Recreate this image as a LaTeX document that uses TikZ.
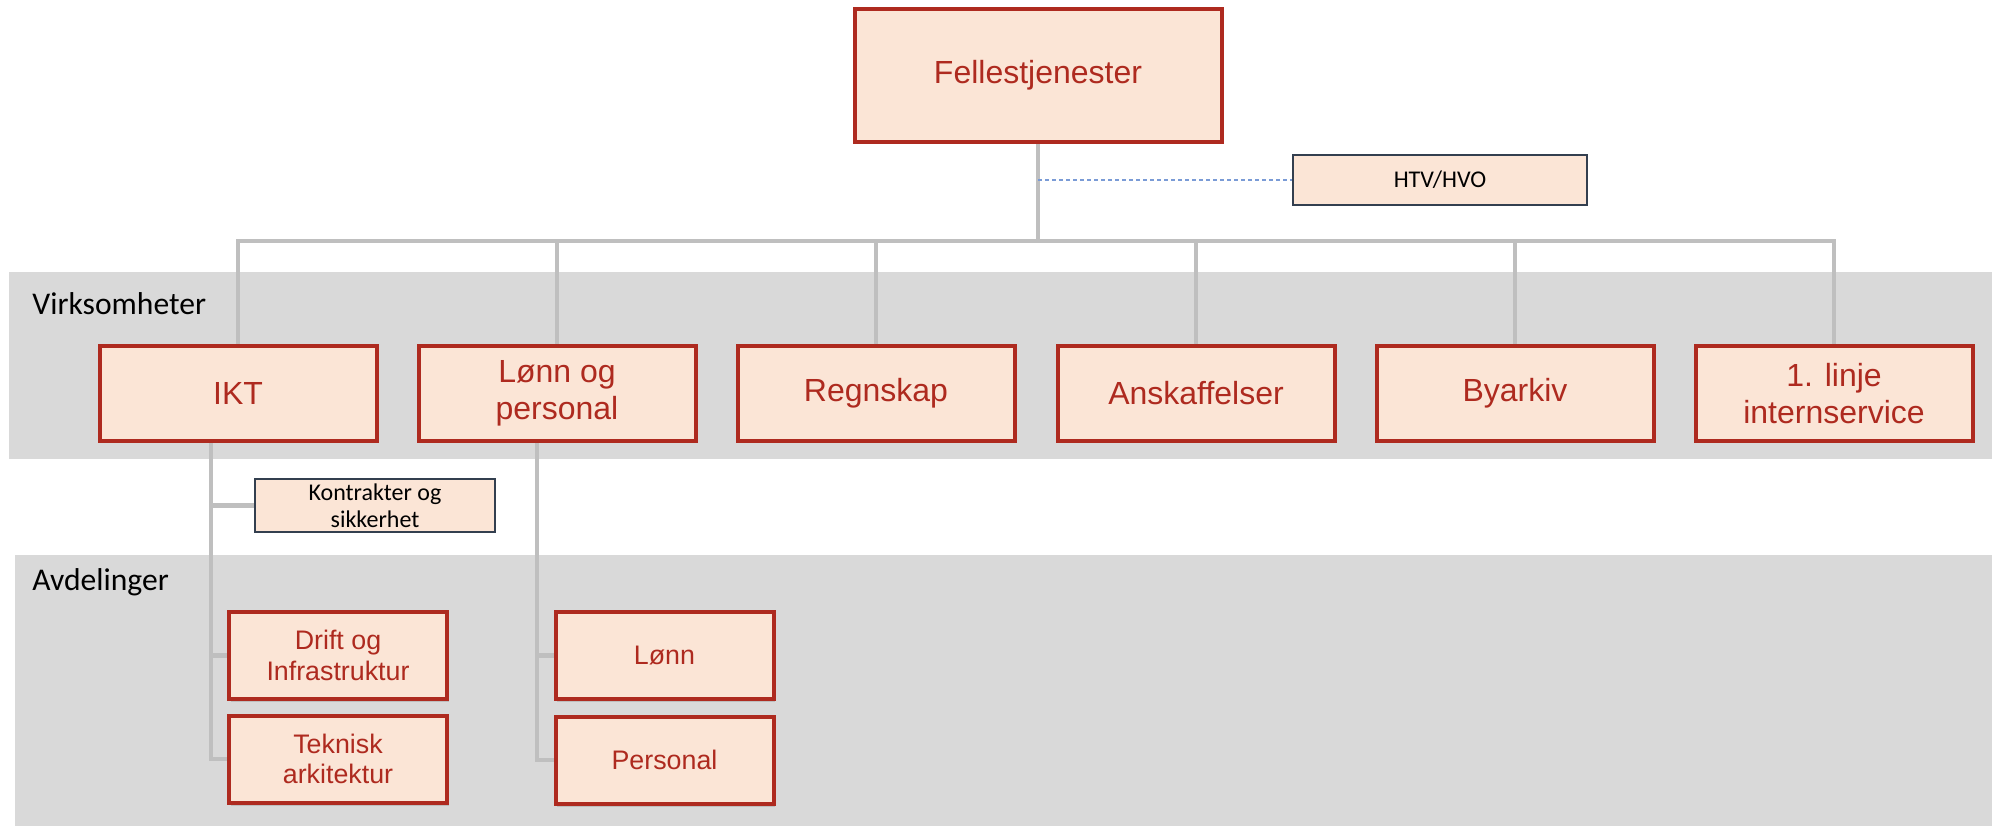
\documentclass[tikz,border=0pt]{standalone}
\usepackage{fontspec}
\setmainfont{Liberation Sans}
\newfontfamily\carlito{Carlito}
\usetikzlibrary{shadows}
\definecolor{boxred}{HTML}{AE2A1F}
\definecolor{peach}{HTML}{FBE5D6}
\definecolor{bandgray}{HTML}{D9D9D9}
\definecolor{linegray}{HTML}{BFBFBF}
\definecolor{slate}{HTML}{333F4F}
\definecolor{dashblue}{HTML}{7A9BD6}

\begin{document}
\begin{tikzpicture}[x=0.5pt, y=-0.5pt,
  unit/.style={draw=boxred, line width=2pt, fill=peach, text=boxred, align=center,
    inner sep=0pt, minimum width=138.5pt, minimum height=47.5pt,
    font=\fontsize{16}{18.4}\selectfont},
  dept/.style={unit, minimum width=109pt, minimum height=43.5pt,
    font=\fontsize{13.4}{15.2}\selectfont,
    drop shadow={shadow xshift=0.8pt, shadow yshift=-1.5pt, opacity=0.3}},
  side/.style={draw=slate, line width=1.2pt, fill=peach, inner sep=0pt, align=center,
    font=\carlito\fontsize{12}{13.5}\selectfont},
  conn/.style={draw=linegray, line width=2.2pt},
  bandlabel/.style={anchor=west, inner sep=0pt, font=\carlito\fontsize{15.8}{18}\selectfont}]
\useasboundingbox (0,0) rectangle (1992,826);
\fill [bandgray] (9,272) rectangle (1992,459);
\fill [bandgray] (15,555) rectangle (1992,826);
\node [bandlabel] (virk) at (32,304) {Virksomheter};
\node [bandlabel] (avd) at (32,582) {Avdelinger};

\node [unit, minimum width=183.5pt, minimum height=66.5pt] (fell) at (1038,75.5) {Fellestjenester};
\node [side, minimum width=147pt, minimum height=25pt] (htv) at (1440,180) {HTV/HVO};

\node [unit] (ikt) at (238,393.5) {IKT};
\node [unit] (lonnpers) at (557,393.5) {Lønn og\\personal};
\node [unit] (regn) at (876,393.5) {Regnskap};
\node [unit] (ansk) at (1196,393.5) {Anskaffelser};
\node [unit] (byark) at (1515,393.5) {Byarkiv};
\node [unit] (linje) at (1834,393.5) {1. linje\\internservice};

\node [side, minimum width=120pt, minimum height=26.5pt] (kontr) at (375,505.5) {Kontrakter og\\sikkerhet};
\node [dept] (drift) at (338,655.5) {Drift og\\Infrastruktur};
\node [dept] (tekn) at (338,759) {Teknisk\\arkitektur};
\node [dept] (lonn) at (664.5,655.5) {Lønn};
\node [dept] (pers) at (664.5,760) {Personal};

\coordinate (bus) at (1038,241);
\draw [conn] (fell.south) -- (bus);
\foreach \n in {ikt,lonnpers,regn,ansk,byark,linje}
  \draw [conn] (\n.north) |- (bus);
\draw [dashblue, line width=0.8pt, dash pattern=on 2pt off 1.5pt] (fell.south |- htv.west) -- (htv.west);

\foreach \n in {kontr,drift,tekn}
  \draw [conn] ([xshift=-13.5pt]ikt.south) |- (\n.west);
\foreach \n in {lonn,pers}
  \draw [conn] ([xshift=-10pt]lonnpers.south) |- (\n.west);
\end{tikzpicture}
\end{document}
